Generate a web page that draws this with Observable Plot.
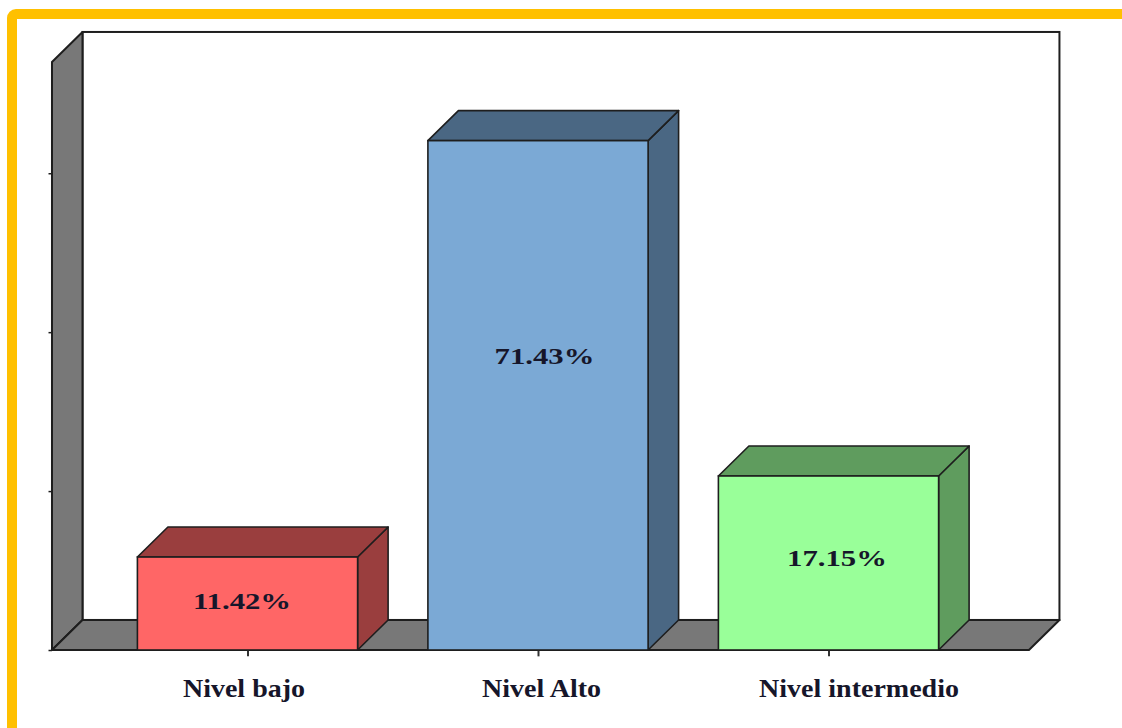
<!DOCTYPE html>
<html>
<head>
<meta charset="utf-8">
<script src="https://cdn.jsdelivr.net/npm/d3@7"></script>
<script src="https://cdn.jsdelivr.net/npm/@observablehq/plot@0.6"></script>
<style>
html, body { margin: 0; padding: 0; background: #fff; overflow: hidden; width: 1122px; height: 728px; }
#wrap { position: relative; width: 1122px; height: 728px; overflow: hidden; }
#chart { position: absolute; left: 0; top: 0; }
#frame { position: absolute; left: 7px; top: 9px; width: 1140px; height: 740px; border: 10px solid #FFC000; border-radius: 9px; box-sizing: border-box; pointer-events: none; }
</style>
</head>
<body>
<div id="wrap"><div id="chart"></div><div id="frame"></div></div>
<script>
// ---- data ----
const categories = ["Nivel bajo", "Nivel Alto", "Nivel intermedio"];
const percentLabels = [11.42, 71.43, 17.15];      // printed on the bars
const barHeights = [11.7, 64.1, 21.9];            // bar heights read against the wall ticks
const yTicks = [0, 20, 40, 60];

// ---- styles / layout ----
const frontColors = ["#FF6666", "#7BA9D5", "#99FF99"];
const shadeColors = ["#9A3E3E", "#4A6783", "#5F9C5E"];
const wallColor = "#787878";
const edge = "#1e1e1e";
const textColor = "#16162a";
const HALF = 0.379;   // half bar width (category units)
const DX = 0.105;     // 3-D depth, x units
const DY = 3.78;      // 3-D depth, y units
const X0 = -0.673, X1 = 2.69, YTOP = 74;
const catDx = [-4, 3, 30];
const valDx = [-6, 6, 8];
const valDy = [2, -14, 4];

const bars = categories.map((c, i) => ({c, i, h: barHeights[i], v: percentLabels[i]}));

const marks = [];
// back wall
marks.push(Plot.rect([0], {x1: X0 + DX, x2: X1 + DX, y1: DY, y2: YTOP + DY, fill: "white", stroke: edge, strokeWidth: 2}));
// left wall
marks.push(Plot.areaY([{x: X0, y1: 0, y2: YTOP}, {x: X0 + DX, y1: DY, y2: YTOP + DY}],
  {x: "x", y1: "y1", y2: "y2", fill: wallColor, stroke: edge, strokeWidth: 2}));
// floor
marks.push(Plot.areaX([{y: 0, x1: X0, x2: X1}, {y: DY, x1: X0 + DX, x2: X1 + DX}],
  {y: "y", x1: "x1", x2: "x2", fill: wallColor, stroke: edge, strokeWidth: 2}));
// wall ticks
marks.push(Plot.ruleY(yTicks, {y: d => d, x1: X0 - 0.012, x2: X0, stroke: edge, strokeWidth: 1.5}));
// category ticks
marks.push(Plot.ruleX(bars, {x: "i", y1: 0, y2: -0.8, stroke: "#333", strokeWidth: 2}));

bars.forEach(b => {
  const side = [{x: b.i + HALF, y1: 0, y2: b.h}, {x: b.i + HALF + DX, y1: DY, y2: b.h + DY}];
  const top = [{y: b.h, x1: b.i - HALF, x2: b.i + HALF}, {y: b.h + DY, x1: b.i - HALF + DX, x2: b.i + HALF + DX}];
  marks.push(Plot.areaY(side, {x: "x", y1: "y1", y2: "y2", fill: shadeColors[b.i], stroke: edge, strokeWidth: 1.6}));
  marks.push(Plot.areaX(top, {y: "y", x1: "x1", x2: "x2", fill: shadeColors[b.i], stroke: edge, strokeWidth: 1.6}));
  marks.push(Plot.rect([b], {x1: d => d.i - HALF, x2: d => d.i + HALF, y1: 0, y2: "h", fill: frontColors[b.i], stroke: edge, strokeWidth: 1.6}));
  marks.push(Plot.text([b], {x: "i", y: d => d.h * 0.55, text: d => d.v.toFixed(2) + "%", dx: valDx[b.i], dy: valDy[b.i],
    fontSize: 24, fontWeight: "bold", fontFamily: "Liberation Serif", fill: textColor}));
  marks.push(Plot.text([b], {x: "i", y: -4.8, text: "c", dx: catDx[b.i],
    fontSize: 25, fontWeight: "bold", fontFamily: "Liberation Serif", fill: textColor}));
});

const chart = Plot.plot({
  width: 1122,
  height: 728,
  margin: 0,
  x: {type: "linear", domain: [0, 2], range: [247.5, 828.5], axis: null},
  y: {type: "linear", domain: [0, 74], range: [650, 62], axis: null},
  style: {background: "transparent", fontFamily: "Liberation Serif"},
  marks
});

document.getElementById("chart").appendChild(chart);

// widen glyphs horizontally like the reference (stretched Times-style text)
d3.select(chart).selectAll("text").each(function () {
  const g = this.closest("g");
  const fs = g ? g.getAttribute("font-size") : null;
  const stretch = fs === "24" ? 1.28 : 1.12;
  const len = this.getComputedTextLength();
  if (len > 0) {
    this.setAttribute("textLength", (len * stretch).toFixed(1));
    this.setAttribute("lengthAdjust", "spacingAndGlyphs");
  }
});
</script>
</body>
</html>
